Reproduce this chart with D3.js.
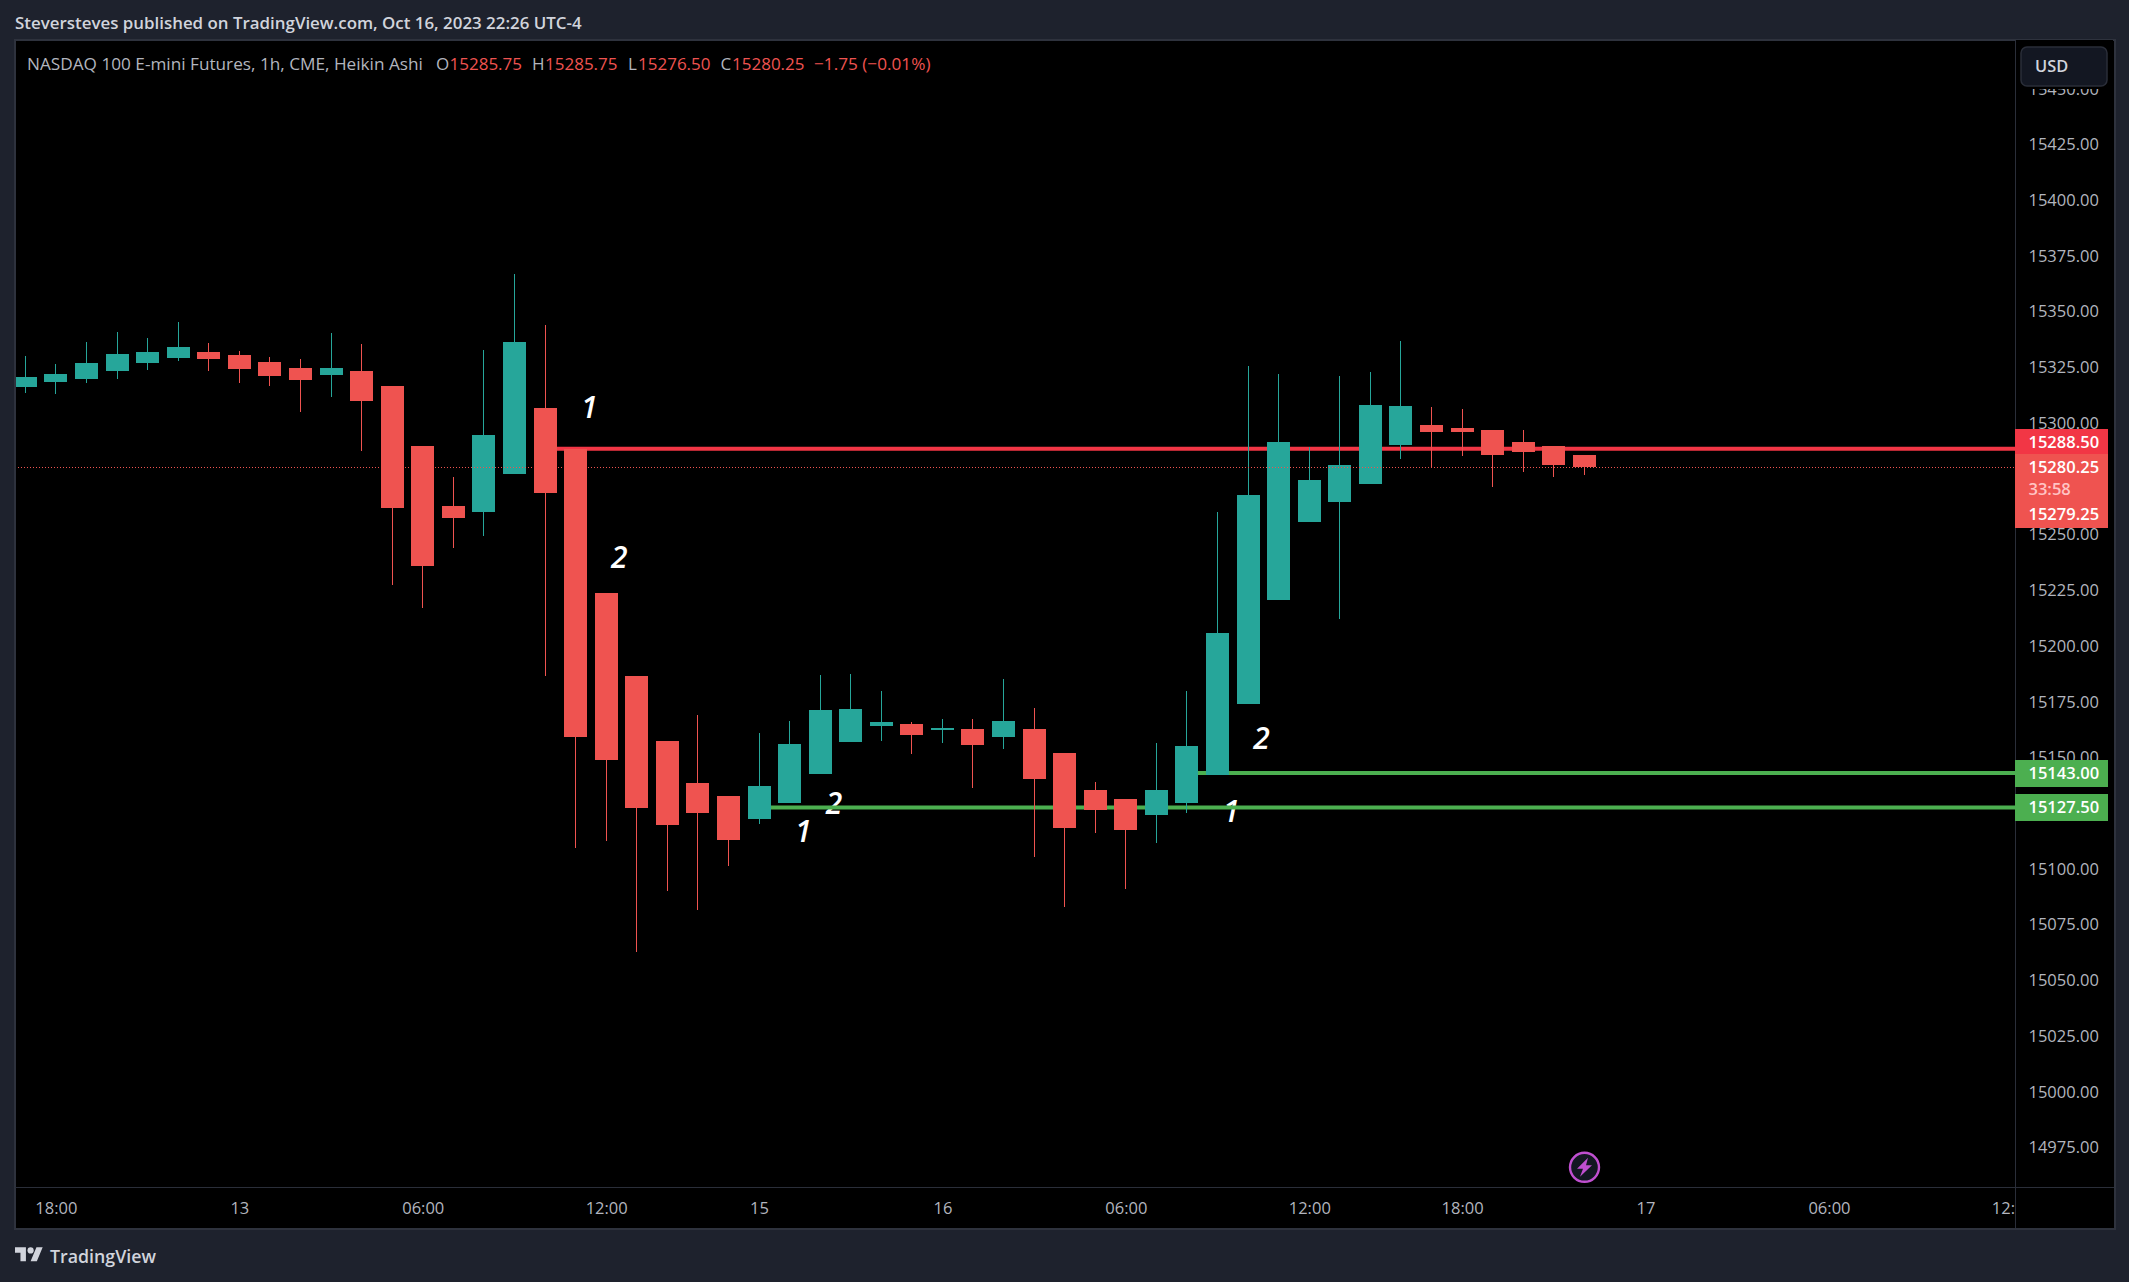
<!DOCTYPE html>
<html><head><meta charset="utf-8">
<script src="https://cdn.jsdelivr.net/npm/d3@7"></script>
<style>
html,body{margin:0;padding:0;background:#1e222d;overflow:hidden}
svg{display:block}
text{font-family:"Open Sans","Noto Sans",sans-serif}
</style></head><body>
<svg id="c" width="2129" height="1282"></svg>
<script>
// ---------- data ----------
const opens =[15316.25,15318.5,15319.75,15323.5,15327,15329.25,15332,15330.5,15327.5,15324.75,15321.5,15323.5,15316.75,15289.75,15262.75,15260.25,15277.25,15306.75,15288.5,15223.75,15186.5,15157.5,15138.5,15132.5,15122.5,15129.5,15142.5,15157,15164,15165,15162.25,15162.75,15159.25,15162.75,15152,15135.5,15131.25,15124.25,15129.5,15142.25,15174,15220.75,15255.75,15264.5,15272.75,15290.25,15299.25,15297.75,15297,15291.5,15289.75,15285.75];
const highs =[15330,15326.5,15336.5,15341,15338.25,15345.5,15336,15332.25,15329.75,15328.75,15340.5,15335.5,15316.75,15289.75,15275.75,15332.75,15367,15344,15288.5,15223.75,15186.5,15157.5,15169,15132.5,15161,15166.25,15187,15187.5,15179.75,15166,15167.25,15167.25,15185.25,15172.25,15152,15139,15131.25,15156.5,15179.75,15260.25,15325.5,15322,15289.25,15321.25,15323,15336.75,15307.25,15306.25,15297,15297,15289.75,15285.75];
const lows  =[15313.5,15313,15318,15319.75,15323.75,15328,15323.5,15318,15316.75,15305,15311.75,15287.5,15227.5,15217,15244,15249.25,15277.25,15186.75,15109.5,15112.5,15062.5,15090.25,15081.75,15101.25,15120.25,15129.5,15142.5,15157,15157.5,15151.5,15156.5,15136.25,15153.75,15105.25,15083,15116,15091,15111.75,15125,15142.25,15174,15220.75,15255.75,15212.25,15272.75,15284,15279.75,15285.25,15271.25,15278,15275.75,15276.5];
const closes=[15320.75,15322,15327,15331,15332,15334.25,15328.75,15324.25,15321.25,15319.25,15324.75,15310,15262,15236,15257.5,15294.75,15336.5,15268.75,15159.25,15148.75,15127.5,15119.75,15125.25,15113,15137.25,15156,15171.25,15171.75,15166,15160,15163.25,15155.5,15166.25,15140.25,15118.25,15126.5,15117.5,15135.5,15155.25,15205.75,15267.75,15291.5,15274.5,15281.25,15308,15307.75,15296,15296,15285.75,15287,15281.25,15280.25];
const priceTicks=[15450,15425,15400,15375,15350,15325,15300,15275,15250,15225,15200,15175,15150,15125,15100,15075,15050,15025,15000,14975];
const timeTickIdx=[1,7,13,19,24,30,36,42,47,53,59,65];
const timeTickLabels=["18:00","13","06:00","12:00","15","16","06:00","12:00","18:00","17","06:00","12:00"];
const levelPrices=[15288.5,15143,15127.5];
const levelStartIdx=[17,38,24];
const levelColors=["#f23645","#4caf50","#4caf50"];
const lastPrice=15280.25, prevLabel="15279.25", countdown="33:58";
const notes=[{t:"1",i:18.45,p:15307.25},{t:"2",i:19.43,p:15240},{t:"1",i:25.45,p:15117},{t:"2",i:26.45,p:15129.5},{t:"1",i:39.45,p:15126},{t:"2",i:40.44,p:15158.75}];
const titleText="Steversteves published on TradingView.com, Oct 16, 2023 22:26 UTC-4";
const symbolText="NASDAQ 100 E-mini Futures, 1h, CME, Heikin Ashi";
// ---------- layout ----------
const paneL=15,paneR=2015,paneT=40,paneB=1187,outerR=2114,outerB=1228;
const UP="#26a69a",DN="#ef5350",FONT=16.5;
const x=d3.scaleLinear().domain([0,51]).range([25.33,1584.4]);
const y=d3.scaleLinear().domain([14975,15425]).range([1147.5,144.5]);
const px=i=>Math.floor(x(i));
const svg=d3.select("#c");
const defs=svg.append("defs");
defs.append("clipPath").attr("id","pane").append("rect").attr("x",paneL).attr("y",paneT).attr("width",paneR-paneL).attr("height",paneB-paneT);
defs.append("clipPath").attr("id","taxis").append("rect").attr("x",paneL).attr("y",paneB).attr("width",paneR-paneL).attr("height",outerB-paneB);
svg.append("rect").attr("width",2129).attr("height",1282).attr("fill","#1e222d");
svg.append("rect").attr("x",paneL).attr("y",paneT).attr("width",outerR-paneL).attr("height",outerB-paneT).attr("fill","#000");
// title
svg.append("text").attr("x",15).attr("y",23).attr("dy","0.35em").attr("font-size",16.9).attr("font-weight",600).attr("fill","#d1d4dc").text(titleText);
// axes
const yAxis=d3.axisRight(y).tickValues(priceTicks).tickSize(0).tickPadding(0).tickFormat(d3.format(".2f"));
const yg=svg.append("g").attr("transform",`translate(${paneR+13.5},0)`).call(yAxis);
yg.select(".domain").remove();
yg.selectAll("text").attr("font-size",FONT).attr("font-family","Open Sans").attr("fill","#b2b5be");
const xAxis=d3.axisBottom(x).tickValues(timeTickIdx).tickSize(0).tickPadding(0).tickFormat((d,i)=>timeTickLabels[i]);
const xg=svg.append("g").attr("clip-path","url(#taxis)").append("g").attr("transform",`translate(0,1202)`).call(xAxis);
xg.select(".domain").remove();
xg.selectAll("text").attr("font-size",FONT).attr("font-family","Open Sans").attr("fill","#b2b5be");
// chart pane
const pane=svg.append("g").attr("clip-path","url(#pane)");
pane.selectAll("text.note").data(notes).join("text").attr("class","note")
  .attr("text-anchor","middle").attr("dy","0.36em").attr("font-size",30).attr("font-style","italic").attr("font-weight",600)
  .attr("fill","#fff").attr("x",d=>x(d.i)).attr("y",d=>y(d.p)).text(d=>d.t);
pane.selectAll("line.level").data(levelPrices).join("line").attr("class","level")
  .attr("x1",(d,i)=>x(levelStartIdx[i])).attr("x2",paneR).attr("y1",d=>y(d)).attr("y2",d=>y(d))
  .attr("stroke",(d,i)=>levelColors[i]).attr("stroke-width",4);
const idx=d3.range(opens.length);
const col=i=>closes[i]>=opens[i]?UP:DN;
const cg=pane.append("g").attr("shape-rendering","crispEdges");
cg.selectAll("rect.wick").data(idx).join("rect").attr("class","wick")
  .attr("x",i=>px(i)).attr("width",1).attr("y",i=>y(highs[i])).attr("height",i=>y(lows[i])-y(highs[i])).attr("fill",col);
cg.selectAll("rect.body").data(idx).join("rect").attr("class","body")
  .attr("x",i=>px(i)-11).attr("width",23).attr("y",i=>y(Math.max(opens[i],closes[i])))
  .attr("height",i=>Math.abs(y(opens[i])-y(closes[i]))).attr("fill",col);
pane.append("line").attr("x1",paneL).attr("x2",paneR).attr("y1",y(lastPrice)).attr("y2",y(lastPrice))
  .attr("stroke",DN).attr("stroke-width",1).attr("stroke-dasharray","1 2").attr("shape-rendering","crispEdges");
// frames
const fr=svg.append("g").attr("fill","none").attr("stroke","#2a2e39").attr("stroke-width",1).attr("shape-rendering","crispEdges");
fr.append("rect").attr("x",paneL-.5).attr("y",paneT-.5).attr("width",outerR-paneL+1).attr("height",outerB-paneT+1).attr("stroke","#2e323d").attr("stroke-width",2);
fr.append("line").attr("x1",paneR).attr("x2",paneR).attr("y1",paneT).attr("y2",outerB);
fr.append("line").attr("x1",paneL).attr("x2",outerR).attr("y1",paneB).attr("y2",paneB);
// legend line
const lgc=[[27,symbolText,"#b2b5be",17.2],[436,"O","#b2b5be",17],[449.5,"15285.75",DN,17],[532,"H","#b2b5be",17],[545,"15285.75",DN,17],[628,"L","#b2b5be",17],[638,"15276.50",DN,17],[720.5,"C","#b2b5be",17],[732,"15280.25",DN,17],[814,"−1.75 (−0.01%)",DN,17.2]];
svg.append("g").selectAll("text").data(lgc).join("text").attr("x",d=>d[0]).attr("y",64).attr("dy","0.35em").attr("font-size",d=>d[3]).attr("fill",d=>d[2]).text(d=>d[1]);
// price labels
const lb=svg.append("g");
const boxes=[[429,25,"#f23645"],[454,74,"#ef5350"],[760,27,"#4caf50"],[794,27,"#4caf50"]];
lb.selectAll("rect").data(boxes).join("rect").attr("x",paneR).attr("y",d=>d[0]).attr("width",93).attr("height",d=>d[1]).attr("fill",d=>d[2]);
const lbText=[[442.5,d3.format(".2f")(levelPrices[0]),"#fff"],[467.5,d3.format(".2f")(lastPrice),"#fff"],[489,countdown,"#ffc4c4"],[514.7,prevLabel,"#fff"],[773.5,d3.format(".2f")(levelPrices[1]),"#fff"],[807.5,d3.format(".2f")(levelPrices[2]),"#fff"]];
lb.selectAll("text").data(lbText).join("text").attr("x",paneR+13.5).attr("y",d=>d[0]).attr("dy","0.35em").attr("font-size",FONT).attr("font-weight",600).attr("fill",d=>d[2]).text(d=>d[1]);
// USD button
svg.append("rect").attr("x",paneR+1).attr("y",paneT).attr("width",outerR-paneR-2).attr("height",49).attr("fill","#000");
svg.append("rect").attr("x",2021).attr("y",47).attr("width",86).attr("height",39).attr("rx",6).attr("fill","#131722").attr("stroke","#2a2e39").attr("stroke-width",1.5);
svg.append("text").attr("x",2035).attr("y",66.5).attr("dy","0.35em").attr("font-size",16.4).attr("font-weight",600).attr("fill","#d1d4dc").text("USD");
// lightning marker
const bolt=svg.append("g").attr("transform","translate(1584.5,1167.3)");
bolt.append("circle").attr("r",14.5).attr("fill","#131722").attr("stroke","#c04fd0").attr("stroke-width",2.4);
bolt.append("path").attr("d","M3.5-9.5L-7.5 1.5H-1.5L-4.5 9.5L7.5-2H1.5Z").attr("fill","#c04fd0");
// TradingView logo
const logo=svg.append("g").attr("transform","translate(15,1246.5) scale(0.78)").attr("fill","#d1d4dc");
logo.append("path").attr("d","M14 22H7V11H0V4h14v18zM28 22h-8l7.5-18h8L28 22z").attr("transform","translate(0,-3)");
logo.append("circle").attr("cx",20).attr("cy",5).attr("r",4);
svg.append("text").attr("x",50).attr("y",1257).attr("dy","0.35em").attr("font-size",17.8).attr("font-weight",600).attr("fill","#d1d4dc").text("TradingView");
</script></body></html>
